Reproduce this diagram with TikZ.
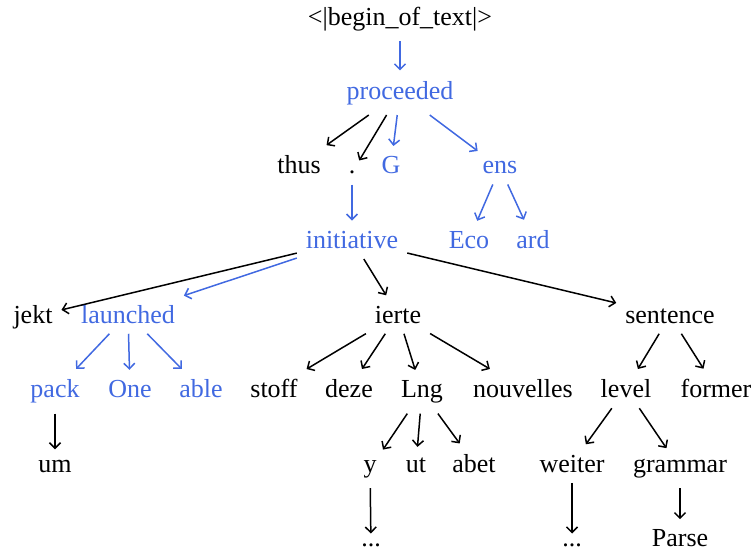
\documentclass[tikz,border=0pt]{standalone}
\usepackage{fontspec}
\setmainfont{Liberation Serif}
\usetikzlibrary{arrows.meta}
\definecolor{tokblue}{RGB}{65,105,225}
\begin{document}
\begin{tikzpicture}[x=1pt,y=-1pt,
  tok/.style={font=\fontsize{26}{30}\selectfont, inner xsep=9pt, inner ysep=10.5pt, outer sep=0pt, anchor=base},
  btok/.style={tok,text=tokblue},
  edge/.style={-{Straight Barb[length=5.5pt,width=11pt]}, line width=1.5pt, draw=black},
  bedge/.style={edge, draw=tokblue}]
\useasboundingbox (0,0) rectangle (753,552);
% row 0
\node[tok] (bot) at (400,25) {<|begin\_of\_text|>};
% row 1
\node[btok] (proceeded) at (400,99) {proceeded};
% row 2
\node[tok] (thus) at (299,173.7) {thus};
\node[tok] (dot) at (352,173.7) {.};
\node[btok] (G) at (391,173.7) {G};
\node[btok] (ens) at (500,173.7) {ens};
% row 3
\node[btok] (initiative) at (352,248.3) {initiative};
\node[btok] (Eco) at (469,248.3) {Eco};
\node[btok] (ard) at (533,248.3) {ard};
% row 4
\node[tok] (jekt) at (33,323) {jekt};
\node[btok] (launched) at (128,323) {launched};
\node[tok] (ierte) at (398,323) {ierte};
\node[tok] (sentence) at (670,323) {sentence};
% row 5
\node[btok] (pack) at (55,397.5) {pack};
\node[btok] (One) at (130,397.5) {One};
\node[btok] (able) at (201,397.5) {able};
\node[tok] (stoff) at (274,397.5) {stoff};
\node[tok] (deze) at (349,397.5) {deze};
\node[tok] (Lng) at (422,397.5) {Lng};
\node[tok] (nouvelles) at (523,397.5) {nouvelles};
\node[tok] (level) at (626,397.5) {level};
\node[tok] (former) at (716,397.5) {former};
% row 6
\node[tok] (um) at (55,472) {um};
\node[tok] (y) at (370,472) {y};
\node[tok] (ut) at (416,472) {ut};
\node[tok] (abet) at (474,472) {abet};
\node[tok] (weiter) at (572,472) {weiter};
\node[tok] (grammar) at (680,472) {grammar};
% row 7
\node[tok] (dotsA) at (371,546.7) {...};
\node[tok] (dotsB) at (572,546.7) {...};
\node[tok] (Parse) at (680,546.7) {Parse};
% edges
\draw[bedge] (bot) -- (proceeded);
\draw[edge] (proceeded) -- (thus);
\draw[edge] (proceeded) -- (dot);
\draw[bedge] (proceeded) -- (G);
\draw[bedge] (proceeded) -- (ens);
\draw[bedge] (dot) -- (initiative);
\draw[bedge] (ens) -- (Eco);
\draw[bedge] (ens) -- (ard);
\draw[edge] (initiative) -- (jekt);
\draw[bedge] (initiative) -- (launched);
\draw[edge] (initiative) -- (ierte);
\draw[edge] (initiative) -- (sentence);
\draw[bedge] (launched) -- (pack);
\draw[bedge] (launched) -- (One);
\draw[bedge] (launched) -- (able);
\draw[edge] (ierte) -- (stoff);
\draw[edge] (ierte) -- (deze);
\draw[edge] (ierte) -- (Lng);
\draw[edge] (ierte) -- (nouvelles);
\draw[edge] (sentence) -- (level);
\draw[edge] (sentence) -- (former);
\draw[edge] (pack) -- (um);
\draw[edge] (Lng) -- (y);
\draw[edge] (Lng) -- (ut);
\draw[edge] (Lng) -- (abet);
\draw[edge] (level) -- (weiter);
\draw[edge] (level) -- (grammar);
\draw[edge] (y) -- (dotsA);
\draw[edge] (weiter) -- (dotsB);
\draw[edge] (grammar) -- (Parse);
\end{tikzpicture}
\end{document}
